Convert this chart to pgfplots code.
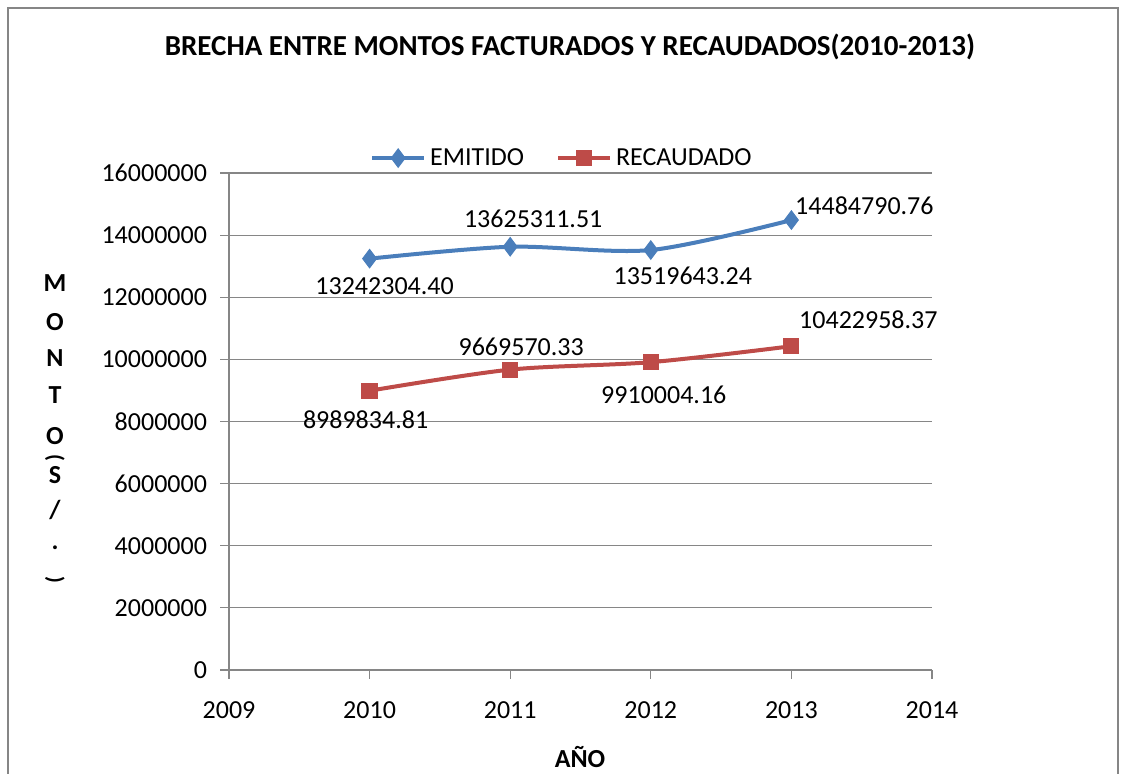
\documentclass[border=0pt]{standalone}
\usepackage{pgfplots}
\pgfplotsset{compat=1.18}
\usepackage{fontspec}
\setmainfont{Carlito}
\definecolor{eblue}{HTML}{4A7EBB}
\definecolor{ered}{HTML}{BE4B48}
\definecolor{gridgray}{HTML}{868686}
\begin{document}
\begin{tikzpicture}
\useasboundingbox (-114.5pt,-52pt) rectangle (448pt,335pt);
\begin{scope}
\clip (-114.5pt,-52pt) rectangle (448pt,335pt);
\draw[gridgray, line width=0.9pt] (-110.5pt,-70pt) rectangle (444.5pt,331pt);
\end{scope}
\begin{axis}[
  scale only axis,
  width=351.5pt, height=248.5pt,
  xmin=2009, xmax=2014, ymin=0, ymax=16000000,
  xtick={2009,2010,2011,2012,2013,2014},
  xticklabels={2009,2010,2011,2012,2013,2014},
  ytick={0,2000000,4000000,6000000,8000000,10000000,12000000,14000000,16000000},
  yticklabels={0,2000000,4000000,6000000,8000000,10000000,12000000,14000000,16000000},
  scaled y ticks=false,
  axis x line*=bottom, axis y line*=left,
  axis line style={gridgray, line width=0.6pt},
  tick style={gridgray, line width=0.6pt},
  tick align=outside, major tick length=4.5pt,
  ymajorgrids, grid style={gridgray, line width=0.6pt},
  ticklabel style={font=\fontsize{13}{15}\selectfont, text=black},
  xticklabel style={yshift=-8pt},
  yticklabel style={xshift=-3pt},
  legend style={at={(0.475,1.03)}, anchor=center, draw=none, fill=none,
    font=\fontsize{13}{15}\selectfont, legend columns=2,
    /tikz/every even column/.append style={column sep=14pt}},
  legend image code/.code={\draw[#1, line width=2pt] (0pt,0pt) -- (26pt,0pt); \draw[#1, mark repeat=1] plot coordinates {(13pt,0pt)};},
  clip=false,
]
\addplot[eblue, line width=2pt, smooth, tension=0.5, mark=diamond*, mark size=4.6pt, mark options={solid, fill=eblue, line width=0.5pt}] coordinates {
  (2010,13242304.40) (2011,13625311.51) (2012,13519643.24) (2013,14484790.76)};
\addlegendentry{EMITIDO}
\addplot[ered, line width=2pt, smooth, tension=0.5, mark=square*, mark size=3.8pt, mark options={solid, fill=ered, line width=0.5pt}] coordinates {
  (2010,8989834.81) (2011,9669570.33) (2012,9910004.16) (2013,10422958.37)};
\addlegendentry{RECAUDADO}
\begin{scope}[every node/.style={font=\fontsize{13}{15}\selectfont, text=black, inner sep=0pt}]
\node[xshift=7.5pt, yshift=-14pt] at (axis cs:2010,13242304.40) {13242304.40};
\node[xshift=11.5pt, yshift=14pt] at (axis cs:2011,13625311.51) {13625311.51};
\node[xshift=16pt, yshift=-13pt] at (axis cs:2012,13519643.24) {13519643.24};
\node[xshift=36.5pt, yshift=7pt] at (axis cs:2013,14484790.76) {14484790.76};
\node[xshift=-2pt, yshift=-14.5pt] at (axis cs:2010,8989834.81) {8989834.81};
\node[xshift=5.5pt, yshift=11.5pt] at (axis cs:2011,9669570.33) {9669570.33};
\node[xshift=6.5pt, yshift=-16.5pt] at (axis cs:2012,9910004.16) {9910004.16};
\node[xshift=38.5pt, yshift=13.5pt] at (axis cs:2013,10422958.37) {10422958.37};
\end{scope}
\end{axis}
\node[font=\bfseries\fontsize{14.5}{16}\selectfont] at (170.5pt,311.5pt) {BRECHA ENTRE MONTOS FACTURADOS Y RECAUDADOS(2010-2013)};
\node[font=\bfseries\fontsize{13}{15}\selectfont] at (175.5pt,-43.5pt) {AÑO};
\begin{scope}[every node/.style={font=\bfseries\fontsize{13}{14}\selectfont, inner sep=0pt}]
\node at (-87pt,193.5pt) {M};
\node at (-87pt,174pt) {O};
\node at (-87pt,156pt) {N};
\node at (-87pt,137.5pt) {T};
\node at (-87pt,117pt) {O};
\node[rotate=-90, font=\bfseries\fontsize{11}{12}\selectfont] at (-87pt,106pt) {(};
\node at (-87pt,97.5pt) {S};
\node at (-87pt,80pt) {/};
\node at (-87pt,61pt) {.};
\node[rotate=-90, font=\bfseries\fontsize{11}{12}\selectfont] at (-87pt,45pt) {)};
\end{scope}
\end{tikzpicture}
\end{document}
